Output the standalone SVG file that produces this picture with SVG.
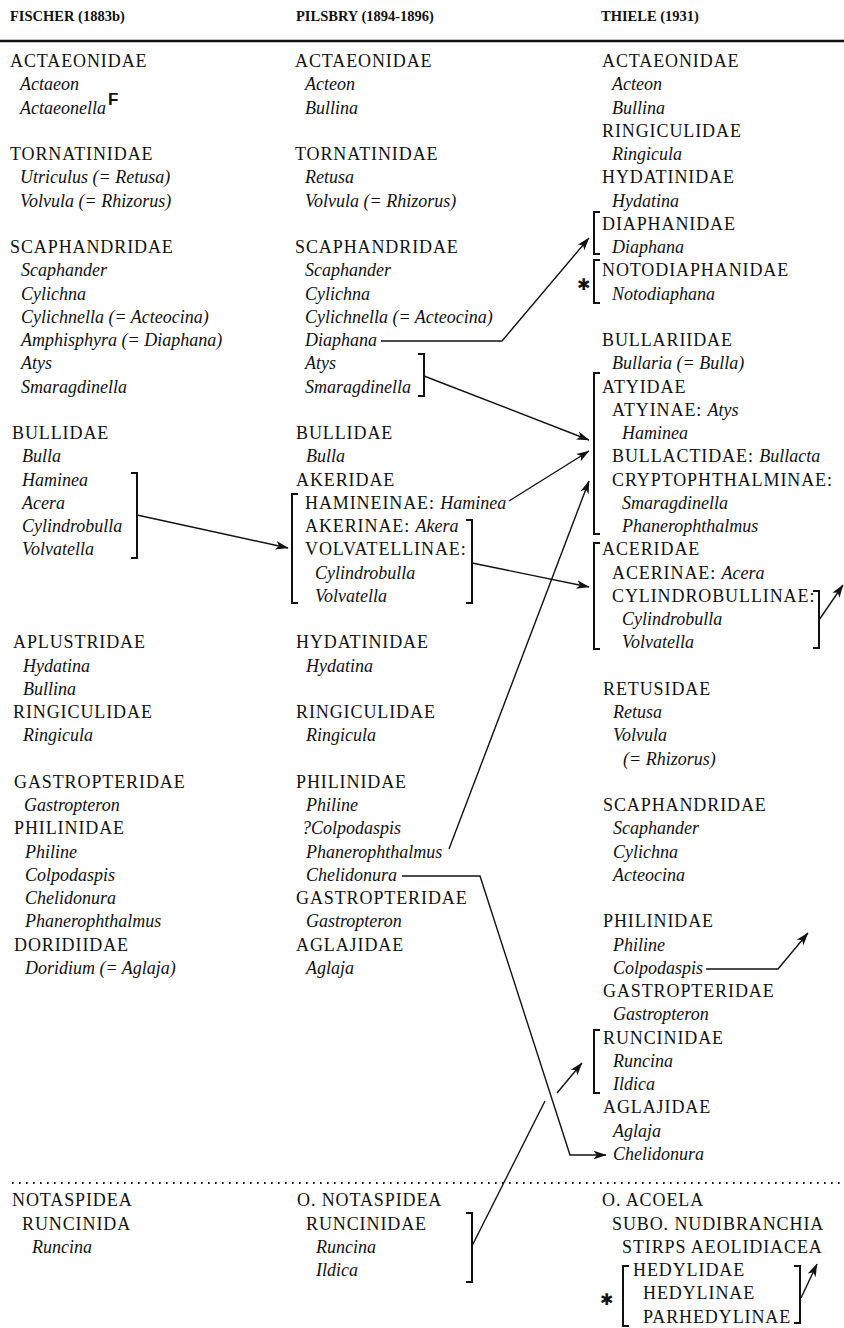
<svg xmlns="http://www.w3.org/2000/svg" width="844" height="1328" viewBox="0 0 844 1328">
<defs>
<marker id="ah" viewBox="0 0 12 8" refX="11.5" refY="4" markerWidth="13" markerHeight="9" markerUnits="userSpaceOnUse" orient="auto">
<path d="M0,0 L12,4 L0,8 L3,4 z" fill="#111"/>
</marker>
<style>
text{font-family:"Liberation Serif","Times New Roman",serif;font-size:18px;fill:#111}
.c{letter-spacing:0.9px}
.i{font-style:italic;letter-spacing:0}
.h{font-size:14.5px;font-weight:bold;letter-spacing:0}
.f{font-family:"Liberation Sans",Arial,sans-serif;font-weight:bold;font-size:17px}
.st{font-family:"DejaVu Sans",sans-serif;font-size:16px;font-weight:bold}
.br{fill:none;stroke:#111;stroke-width:2}
.ln{fill:none;stroke:#111;stroke-width:1.4}
.ar{fill:none;stroke:#111;stroke-width:1.4;marker-end:url(#ah)}
</style>
</defs>
<rect width="844" height="1328" fill="#fff"/>

<g id="header">
<text class="h" x="10" y="21">FISCHER (1883b)</text>
<text class="h" x="296" y="21">PILSBRY (1894-1896)</text>
<text class="h" x="601" y="21">THIELE (1931)</text>
<line x1="0" y1="41" x2="844" y2="41" stroke="#111" stroke-width="2.5"/>
<line x1="12" y1="1183" x2="844" y2="1183" stroke="#111" stroke-width="2.2" stroke-dasharray="1.6 5.4"/>
</g>

<!-- Column 1: Fischer -->
<g id="f-actaeonidae">
<text class="c" x="10" y="67">ACTAEONIDAE</text>
<text class="i" x="20" y="90.3">Actaeon</text>
<text class="i" x="20" y="113.5">Actaeonella</text>
<text class="f" x="108" y="105">F</text>
</g>
<g id="f-tornatinidae">
<text class="c" x="10" y="160">TORNATINIDAE</text>
<text class="i" x="20" y="183.3">Utriculus  (= Retusa)</text>
<text class="i" x="20" y="206.5">Volvula (= Rhizorus)</text>
</g>
<g id="f-scaphandridae">
<text class="c" x="10" y="253">SCAPHANDRIDAE</text>
<text class="i" x="21" y="276.3">Scaphander</text>
<text class="i" x="21" y="299.5">Cylichna</text>
<text class="i" x="21" y="322.8">Cylichnella (= Acteocina)</text>
<text class="i" x="21" y="346">Amphisphyra (= Diaphana)</text>
<text class="i" x="21" y="369.3">Atys</text>
<text class="i" x="21" y="392.5">Smaragdinella</text>
</g>
<g id="f-bullidae">
<text class="c" x="12" y="439">BULLIDAE</text>
<text class="i" x="22" y="462.3">Bulla</text>
<text class="i" x="22" y="485.5">Haminea</text>
<text class="i" x="22" y="508.8">Acera</text>
<text class="i" x="22" y="532">Cylindrobulla</text>
<text class="i" x="22" y="555.3">Volvatella</text>
</g>
<g id="f-aplustridae">
<text class="c" x="13" y="648.3">APLUSTRIDAE</text>
<text class="i" x="23" y="671.5">Hydatina</text>
<text class="i" x="23" y="694.8">Bullina</text>
</g>
<g id="f-ringiculidae">
<text class="c" x="13" y="718">RINGICULIDAE</text>
<text class="i" x="23" y="741.3">Ringicula</text>
</g>
<g id="f-gastropteridae">
<text class="c" x="14" y="787.8">GASTROPTERIDAE</text>
<text class="i" x="24" y="811">Gastropteron</text>
</g>
<g id="f-philinidae">
<text class="c" x="14" y="834.3">PHILINIDAE</text>
<text class="i" x="25" y="857.5">Philine</text>
<text class="i" x="25" y="880.8">Colpodaspis</text>
<text class="i" x="25" y="904">Chelidonura</text>
<text class="i" x="25" y="927.3">Phanerophthalmus</text>
</g>
<g id="f-doridiidae">
<text class="c" x="14" y="950.5">DORIDIIDAE</text>
<text class="i" x="25" y="973.8">Doridium (= Aglaja)</text>
</g>
<g id="f-notaspidea">
<text class="c" x="12" y="1206.3">NOTASPIDEA</text>
<text class="c" x="22" y="1229.5">RUNCINIDA</text>
<text class="i" x="32" y="1252.8">Runcina</text>
</g>

<!-- Column 2: Pilsbry -->
<g id="p-actaeonidae">
<text class="c" x="295" y="67">ACTAEONIDAE</text>
<text class="i" x="305" y="90.3">Acteon</text>
<text class="i" x="305" y="113.5">Bullina</text>
</g>
<g id="p-tornatinidae">
<text class="c" x="295" y="160">TORNATINIDAE</text>
<text class="i" x="305" y="183.3">Retusa</text>
<text class="i" x="305" y="206.5">Volvula (= Rhizorus)</text>
</g>
<g id="p-scaphandridae">
<text class="c" x="295" y="253">SCAPHANDRIDAE</text>
<text class="i" x="305" y="276.3">Scaphander</text>
<text class="i" x="305" y="299.5">Cylichna</text>
<text class="i" x="305" y="322.8">Cylichnella (= Acteocina)</text>
<text class="i" x="305" y="346">Diaphana</text>
<text class="i" x="305" y="369.3">Atys</text>
<text class="i" x="305" y="392.5">Smaragdinella</text>
</g>
<g id="p-bullidae">
<text class="c" x="296" y="439">BULLIDAE</text>
<text class="i" x="306" y="462.3">Bulla</text>
</g>
<g id="p-akeridae">
<text class="c" x="296" y="485.5">AKERIDAE</text>
<text class="c" x="305" y="508.8">HAMINEINAE: <tspan class="i">Haminea</tspan></text>
<text class="c" x="305" y="532">AKERINAE: <tspan class="i">Akera</tspan></text>
<text class="c" x="305" y="555.3">VOLVATELLINAE:</text>
<text class="i" x="315" y="578.5">Cylindrobulla</text>
<text class="i" x="315" y="601.8">Volvatella</text>
</g>
<g id="p-hydatinidae">
<text class="c" x="296" y="648.3">HYDATINIDAE</text>
<text class="i" x="306" y="671.5">Hydatina</text>
</g>
<g id="p-ringiculidae">
<text class="c" x="296" y="718">RINGICULIDAE</text>
<text class="i" x="306" y="741.3">Ringicula</text>
</g>
<g id="p-philinidae">
<text class="c" x="296" y="787.8">PHILINIDAE</text>
<text class="i" x="306" y="811">Philine</text>
<text class="i" x="302" y="834.3">?Colpodaspis</text>
<text class="i" x="306" y="857.5">Phanerophthalmus</text>
<text class="i" x="306" y="880.8">Chelidonura</text>
</g>
<g id="p-gastropteridae">
<text class="c" x="296" y="904">GASTROPTERIDAE</text>
<text class="i" x="306" y="927.3">Gastropteron</text>
</g>
<g id="p-aglajidae">
<text class="c" x="296" y="950.5">AGLAJIDAE</text>
<text class="i" x="306" y="973.8">Aglaja</text>
</g>
<g id="p-notaspidea">
<text class="c" x="297" y="1206.3">O. NOTASPIDEA</text>
<text class="c" x="306" y="1229.5">RUNCINIDAE</text>
<text class="i" x="316" y="1252.8">Runcina</text>
<text class="i" x="316" y="1276">Ildica</text>
</g>

<!-- Column 3: Thiele -->
<g id="t-actaeonidae">
<text class="c" x="602" y="67">ACTAEONIDAE</text>
<text class="i" x="612" y="90.3">Acteon</text>
<text class="i" x="612" y="113.5">Bullina</text>
</g>
<g id="t-ringiculidae">
<text class="c" x="602" y="136.8">RINGICULIDAE</text>
<text class="i" x="612" y="160">Ringicula</text>
</g>
<g id="t-hydatinidae">
<text class="c" x="602" y="183.3">HYDATINIDAE</text>
<text class="i" x="612" y="206.5">Hydatina</text>
</g>
<g id="t-diaphanidae">
<text class="c" x="602" y="229.8">DIAPHANIDAE</text>
<text class="i" x="612" y="253">Diaphana</text>
</g>
<g id="t-notodiaphanidae">
<text class="c" x="602" y="276.3">NOTODIAPHANIDAE</text>
<text class="i" x="612" y="299.5">Notodiaphana</text>
<text class="st" x="577" y="290">✱</text>
</g>
<g id="t-bullariidae">
<text class="c" x="602" y="346">BULLARIIDAE</text>
<text class="i" x="612" y="369.3">Bullaria (= Bulla)</text>
</g>
<g id="t-atyidae">
<text class="c" x="602" y="392.5">ATYIDAE</text>
<text class="c" x="612" y="415.8">ATYINAE: <tspan class="i">Atys</tspan></text>
<text class="i" x="622" y="439">Haminea</text>
<text class="c" x="612" y="462.3">BULLACTIDAE: <tspan class="i">Bullacta</tspan></text>
<text class="c" x="612" y="485.5">CRYPTOPHTHALMINAE:</text>
<text class="i" x="622" y="508.8">Smaragdinella</text>
<text class="i" x="622" y="532">Phanerophthalmus</text>
</g>
<g id="t-aceridae">
<text class="c" x="602" y="555.3">ACERIDAE</text>
<text class="c" x="612" y="578.5">ACERINAE: <tspan class="i">Acera</tspan></text>
<text class="c" x="612" y="601.8">CYLINDROBULLINAE:</text>
<text class="i" x="622" y="625">Cylindrobulla</text>
<text class="i" x="622" y="648.3">Volvatella</text>
</g>
<g id="t-retusidae">
<text class="c" x="603" y="694.8">RETUSIDAE</text>
<text class="i" x="613" y="718">Retusa</text>
<text class="i" x="613" y="741.3">Volvula</text>
<text class="i" x="623" y="764.5">(= Rhizorus)</text>
</g>
<g id="t-scaphandridae">
<text class="c" x="603" y="811">SCAPHANDRIDAE</text>
<text class="i" x="613" y="834.3">Scaphander</text>
<text class="i" x="613" y="857.5">Cylichna</text>
<text class="i" x="613" y="880.8">Acteocina</text>
</g>
<g id="t-philinidae">
<text class="c" x="603" y="927.3">PHILINIDAE</text>
<text class="i" x="613" y="950.5">Philine</text>
<text class="i" x="613" y="973.8">Colpodaspis</text>
</g>
<g id="t-gastropteridae">
<text class="c" x="603" y="997">GASTROPTERIDAE</text>
<text class="i" x="613" y="1020.3">Gastropteron</text>
</g>
<g id="t-runcinidae">
<text class="c" x="603" y="1043.5">RUNCINIDAE</text>
<text class="i" x="613" y="1066.8">Runcina</text>
<text class="i" x="613" y="1090">Ildica</text>
</g>
<g id="t-aglajidae">
<text class="c" x="603" y="1113.3">AGLAJIDAE</text>
<text class="i" x="613" y="1136.5">Aglaja</text>
<text class="i" x="613" y="1159.8">Chelidonura</text>
</g>
<g id="t-acoela">
<text class="c" x="602" y="1206.3">O. ACOELA</text>
<text class="c" x="612" y="1229.5">SUBO. NUDIBRANCHIA</text>
<text class="c" x="622" y="1252.8">STIRPS AEOLIDIACEA</text>
<text class="c" x="633" y="1276">HEDYLIDAE</text>
<text class="c" x="643" y="1299.3">HEDYLINAE</text>
<text class="c" x="643" y="1322.5">PARHEDYLINAE</text>
<text class="st" x="600" y="1305">✱</text>
</g>

<g id="connectors">
<!-- brackets -->
<path class="br" d="M131,473 H137 V558 H131"/>
<path class="br" d="M298,494 H292 V603 H298"/>
<path class="br" d="M466,520 H472 V603 H466"/>
<path class="br" d="M418,354 H424 V396 H418"/>
<path class="br" d="M466,1213 H472 V1282 H466"/>
<path class="br" d="M600,212 H594 V254 H600"/>
<path class="br" d="M600,260 H594 V303 H600"/>
<path class="br" d="M600,373 H594 V534 H600"/>
<path class="br" d="M600,543 H594 V649 H600"/>
<path class="br" d="M600,1030 H594 V1093 H600"/>
<path class="br" d="M813,591 H819 V648 H813"/>
<path class="br" d="M629,1266 H623 V1326 H629"/>
<path class="br" d="M794,1266 H800 V1323 H794"/>
<!-- arrows -->
<path class="ar" d="M137,515 L288,548"/>
<path class="ar" d="M472,563 L589,587"/>
<path class="ar" d="M424,376 L589,440"/>
<path class="ar" d="M509,501 L589,451"/>
<path class="ar" d="M381,341 H502 L589,238"/>
<path class="ar" d="M449,849 L589,481"/>
<path class="ar" d="M402,876 H480 L570,1155 H606"/>
<path class="ln" d="M472,1246 L545,1101"/>
<path class="ar" d="M557,1093 L582,1063"/>
<path class="ar" d="M706,969 H778 L808,933"/>
<path class="ar" d="M819,620 L843,585"/>
<path class="ar" d="M801,1298 L817,1264"/>
</g>
</svg>
